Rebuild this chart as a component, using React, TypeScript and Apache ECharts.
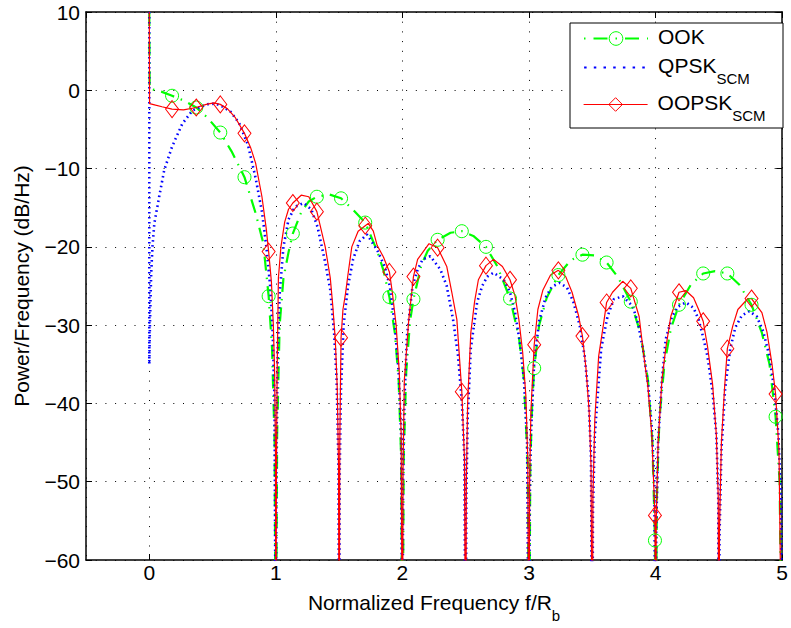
import React, { useEffect, useRef } from 'react';
import * as echarts from 'echarts';

const FONT = '"Liberation Sans", Arial, Helvetica, sans-serif';

const xRange = [-0.5, 5];
const yRange = [-60, 10];
const yStep = 10;
const seriesNames = ['OOK', 'QPSK_SCM', 'OOPSK_SCM'];
const legendMain = ['OOK', 'QPSK', 'OOPSK'];
const legendSub = ['', 'SCM', 'SCM'];
const xAxisTitle = 'Normalized Frequency f/R';
const xAxisTitleSub = 'b';
const yAxisTitle = 'Power/Frequency (dB/Hz)';

// frequencies where markers are drawn (OOK circles and OOPSK diamonds)
const markerFreq = [0.18, 0.371, 0.561, 0.752, 0.943, 1.134, 1.324, 1.515, 1.706, 1.897, 2.087, 2.278, 2.469, 2.66, 2.85, 3.041, 3.232, 3.422, 3.613, 3.804, 3.995, 4.185, 4.376, 4.567, 4.758, 4.948];

const ookCurve: [number, number][] = [
  [0, 10], [0.003, 0.2], [0.05, 0.0], [0.1, -0.2], [0.18, -0.7], [0.27, -1.3], [0.371, -2.2], [0.46, -3.5], [0.561, -5.4], [0.65, -7.8], [0.752, -11.1], [0.84, -15.7], [0.9, -19.5], [0.943, -26.3], [0.97, -33], [0.99, -45], [1.0, -80],
  [1.01, -44], [1.03, -30], [1.06, -24], [1.1, -20.7], [1.134, -18.3], [1.2, -15.6], [1.26, -14.2], [1.324, -13.6], [1.42, -13.3], [1.515, -13.8], [1.6, -15.1], [1.706, -16.9], [1.8, -20.5], [1.85, -23], [1.897, -26.4], [1.94, -31], [1.97, -37], [1.99, -47], [2.0, -80],
  [2.01, -47], [2.03, -36], [2.06, -29.5], [2.087, -26.7], [2.15, -22.3], [2.2, -20.5], [2.278, -19.1], [2.38, -18.2], [2.469, -18.0], [2.56, -18.6], [2.66, -20.0], [2.75, -22.5], [2.85, -26.6], [2.92, -31.5], [2.96, -37], [2.99, -48], [3.0, -80],
  [3.01, -48], [3.025, -40], [3.041, -35.5], [3.08, -30], [3.14, -26.5], [3.232, -23.6], [3.33, -21.7], [3.422, -21.0], [3.52, -21.1], [3.613, -22.0], [3.7, -23.8], [3.804, -27.0], [3.88, -31], [3.94, -37], [3.975, -45], [3.995, -57.5], [4.0, -80],
  [4.01, -52], [4.03, -42], [4.07, -35], [4.12, -30.5], [4.185, -27.4], [4.28, -24.8], [4.376, -23.4], [4.47, -23.1], [4.567, -23.4], [4.66, -24.8], [4.758, -27.4], [4.84, -31], [4.9, -35], [4.948, -41.7], [4.98, -50], [5.0, -80],
];

const qpskCurve: [number, number][] = [
  [0, 10], [0, -35], [0.005, -30], [0.015, -23.3], [0.025, -20], [0.04, -17], [0.078, -13.6], [0.118, -10.2], [0.18, -7.2], [0.26, -4.3], [0.34, -2.6], [0.45, -1.8], [0.52, -1.7], [0.57, -2.0], [0.64, -2.7], [0.71, -4.2], [0.78, -7.0], [0.84, -11.2], [0.89, -15.5], [0.925, -20], [0.955, -25], [0.975, -31], [0.99, -40], [1.0, -80],
  [1.005, -45], [1.015, -33], [1.03, -26], [1.06, -20], [1.1, -16.5], [1.15, -14.9], [1.22, -14.4], [1.28, -15.2], [1.33, -17.5], [1.39, -22], [1.43, -25.5], [1.46, -31], [1.48, -37], [1.495, -48], [1.5, -80],
  [1.505, -48], [1.515, -38], [1.535, -30], [1.57, -25], [1.61, -21.6], [1.66, -19.3], [1.72, -18.4], [1.8, -20.4], [1.86, -22.5], [1.9, -25], [1.94, -30], [1.97, -36], [1.99, -44], [2.0, -80],
  [2.005, -50], [2.015, -40], [2.035, -31.5], [2.08, -25], [2.12, -22.9], [2.16, -21.6], [2.22, -21.2], [2.3, -22.9], [2.35, -25], [2.4, -29.3], [2.44, -34], [2.47, -40], [2.49, -47], [2.5, -80],
  [2.505, -52], [2.515, -42], [2.54, -33], [2.59, -27.1], [2.63, -25], [2.67, -23.8], [2.72, -23.3], [2.8, -24.2], [2.85, -25.8], [2.89, -28.4], [2.93, -32.5], [2.96, -37], [2.985, -45], [3.0, -80],
  [3.005, -53], [3.015, -44], [3.04, -35], [3.08, -29.5], [3.13, -26.5], [3.18, -25.1], [3.24, -24.6], [3.3, -25.2], [3.35, -27], [3.4, -30], [3.44, -34], [3.47, -39], [3.49, -47], [3.5, -80],
  [3.505, -54], [3.52, -44], [3.57, -33], [3.62, -28.9], [3.67, -26.7], [3.74, -26.3], [3.82, -27.6], [3.86, -29.7], [3.9, -33], [3.94, -37.5], [3.97, -43], [3.99, -50], [4.0, -80],
  [4.005, -56], [4.02, -45], [4.05, -37], [4.08, -31.8], [4.13, -28.9], [4.18, -27.6], [4.24, -27.1], [4.3, -27.8], [4.34, -29.3], [4.38, -31.8], [4.41, -34], [4.45, -38.5], [4.48, -44], [4.495, -52], [4.5, -80],
  [4.505, -57], [4.52, -46], [4.55, -38], [4.59, -33], [4.63, -30.3], [4.68, -28.8], [4.74, -28.2], [4.8, -28.9], [4.85, -30.8], [4.9, -34], [4.94, -38.5], [4.97, -44], [4.99, -52], [5.0, -80],
];

const oopskCurve: [number, number][] = [
  [0, 10], [0.002, -1.7], [0.05, -1.9], [0.1, -2.1], [0.18, -2.4], [0.27, -2.5], [0.371, -2.2], [0.45, -1.8], [0.51, -1.6], [0.561, -1.8], [0.62, -2.4], [0.68, -3.5], [0.752, -5.5], [0.8, -7.3], [0.84, -9.3], [0.89, -13.6], [0.925, -17.8], [0.943, -20.6], [0.965, -24.5], [0.98, -30], [0.99, -36], [0.997, -46], [1.0, -80],
  [1.004, -50], [1.01, -36], [1.02, -24], [1.04, -20], [1.07, -16.8], [1.1, -15.2], [1.134, -14.4], [1.2, -13.4], [1.26, -13.6], [1.324, -15.5], [1.39, -20], [1.43, -24], [1.45, -27.6], [1.47, -32], [1.485, -38], [1.495, -48], [1.5, -80],
  [1.505, -45], [1.515, -31.6], [1.53, -28], [1.55, -26], [1.57, -23.5], [1.6, -20], [1.65, -18], [1.706, -17.3], [1.73, -17.0], [1.77, -18], [1.8, -19.8], [1.85, -21.3], [1.897, -23.2], [1.92, -25.8], [1.95, -30], [1.975, -36], [1.99, -44], [2.0, -80],
  [2.005, -48], [2.015, -37], [2.05, -29.3], [2.087, -23.8], [2.12, -21.6], [2.21, -19.6], [2.278, -20.1], [2.35, -22.5], [2.39, -25.8], [2.43, -29.3], [2.469, -38.5], [2.49, -47], [2.5, -80],
  [2.505, -50], [2.515, -40], [2.54, -31], [2.57, -27], [2.6, -24.2], [2.66, -22.4], [2.72, -21.6], [2.79, -22.5], [2.85, -24.2], [2.89, -26.3], [2.92, -29.3], [2.95, -33.5], [2.975, -39], [2.99, -47], [3.0, -80],
  [3.005, -50], [3.015, -41], [3.041, -32.5], [3.07, -28], [3.11, -25.5], [3.17, -23.6], [3.232, -23.0], [3.29, -23.8], [3.34, -25.8], [3.39, -28.7], [3.422, -31.4], [3.45, -35.5], [3.475, -41], [3.49, -48], [3.5, -80],
  [3.505, -52], [3.52, -42], [3.55, -34], [3.59, -29.7], [3.613, -27.1], [3.66, -25.8], [3.74, -24.4], [3.804, -25.3], [3.87, -28.9], [3.9, -33], [3.94, -38], [3.97, -44], [3.995, -54.3], [4.0, -80],
  [4.005, -55], [4.02, -45], [4.05, -37], [4.08, -33], [4.12, -28.9], [4.185, -25.8], [4.24, -25.6], [4.3, -26.5], [4.34, -28], [4.376, -29.5], [4.41, -32.7], [4.45, -37.5], [4.48, -44], [4.495, -52], [4.5, -80],
  [4.505, -56], [4.52, -45], [4.545, -38], [4.567, -33.0], [4.61, -30.1], [4.65, -28], [4.73, -26.6], [4.758, -26.6], [4.84, -28.4], [4.88, -30.9], [4.92, -35], [4.948, -38.8], [4.975, -46], [5.0, -80],
];

const GREEN = '#00ff00';
const BLUE = '#0000ff';
const RED = '#ff0000';

function buildData(curve: [number, number][], symbol: string, size: number | number[]) {
  return curve.map(([x, y]) =>
    markerFreq.some((m) => Math.abs(m - x) < 1e-9)
      ? { value: [x, y], symbol, symbolSize: size }
      : { value: [x, y], symbol: 'none' }
  );
}

const minus = (v: number) => String(v).replace('-', '\u2212');

const FS = 21;

const subRich = {
  m: { fontSize: FS, lineHeight: 25, verticalAlign: 'top', padding: [0, 0, 6, 5], color: '#000', fontFamily: FONT },
  s: { fontSize: 15, lineHeight: 15, verticalAlign: 'top', padding: [16, 0, 0, 0], color: '#000', fontFamily: FONT },
};

export default function App() {
  const ref = useRef<HTMLDivElement>(null);
  useEffect(() => {
    const chart = echarts.init(ref.current!, null, { renderer: 'svg' });
    const axisLine = { show: true, onZero: false, lineStyle: { color: '#000', width: 1.5 } };
    const tick = { show: true, inside: true, length: 6, lineStyle: { color: '#000', width: 1 } };
    const grid = { show: true, lineStyle: { color: '#000', width: 1, type: [1, 8.7] } };
    const legendColors = [GREEN, BLUE, RED];
    const legendTops = [26, 55, 92];
    const legendLine = [
      { color: GREEN, width: 2, type: [14, 8, 1.5, 8], dashOffset: 22 },
      { color: BLUE, width: 2.2, type: [2.5, 7.2] },
      { color: RED, width: 1.2, type: 'solid' },
    ];
    chart.setOption({
      animation: false,
      textStyle: { fontFamily: FONT },
      grid: { left: 86, right: 5, top: 12, bottom: 65, containLabel: false },
      xAxis: [
        {
          type: 'value', min: xRange[0], max: xRange[1], minInterval: 1, maxInterval: 1, splitNumber: 5, position: 'bottom',
          axisLine, axisTick: tick, splitLine: grid,
          axisLabel: { showMinLabel: false, color: '#000', fontSize: FS, fontFamily: FONT, margin: 2, lineHeight: 21, formatter: minus },
          name: `{n|${xAxisTitle}}{s|${xAxisTitleSub}}`, nameLocation: 'middle', nameGap: 32,
          nameTextStyle: {
            rich: {
              n: { fontSize: FS, lineHeight: 25, verticalAlign: 'top', color: '#000', fontFamily: FONT },
              s: { fontSize: 15, lineHeight: 15, verticalAlign: 'top', padding: [16, 0, 0, 0], color: '#000', fontFamily: FONT },
            },
          },
        },
        {
          type: 'value', min: xRange[0], max: xRange[1], minInterval: 1, maxInterval: 1, splitNumber: 5, position: 'top',
          axisLine, axisTick: tick, splitLine: { show: false }, axisLabel: { show: false },
        },
      ],
      yAxis: [
        {
          type: 'value', min: yRange[0], max: yRange[1], interval: yStep, position: 'left',
          axisLine, axisTick: tick, splitLine: grid,
          axisLabel: { color: '#000', fontSize: FS, fontFamily: FONT, margin: 6, formatter: minus },
          name: yAxisTitle, nameLocation: 'middle', nameGap: 52,
          nameTextStyle: { color: '#000', fontSize: FS, lineHeight: 24, fontFamily: FONT },
        },
        {
          type: 'value', min: yRange[0], max: yRange[1], interval: yStep, position: 'right',
          axisLine, axisTick: tick, splitLine: { show: false }, axisLabel: { show: false },
        },
      ],
      graphic: {
        elements: [
          {
            type: 'rect', z: 8,
            shape: { x: 570, y: 23, width: 213, height: 105 },
            style: { fill: '#fff', stroke: '#000', lineWidth: 1 },
          },
        ],
      },
      legend: seriesNames.map((name, i) => ({
        data: [name], left: 583, top: legendTops[i], orient: 'vertical', padding: 0,
        itemWidth: 64, itemHeight: 17, selectedMode: false, z: 10,
        formatter: () => (legendSub[i] ? `{m|${legendMain[i]}}{s|${legendSub[i]}}` : `{m|${legendMain[i]}}`),
        textStyle: { color: '#000', fontSize: FS, fontFamily: FONT, rich: subRich },
        lineStyle: legendLine[i],
        itemStyle: i === 1
          ? { color: 'rgba(0,0,0,0)', borderColor: 'rgba(0,0,0,0)', borderWidth: 0 }
          : { color: 'rgba(0,0,0,0)', borderColor: legendColors[i], borderWidth: 1 },
      })),
      series: [
        {
          name: seriesNames[0], type: 'line', data: buildData(ookCurve, 'circle', 13),
          symbol: 'circle', showSymbol: true, z: 2,
          lineStyle: { color: GREEN, width: 2.2, type: [14, 7, 1.5, 7] },
          itemStyle: { color: 'rgba(0,0,0,0)', borderColor: GREEN, borderWidth: 1 },
          emphasis: { disabled: true },
        },
        {
          name: seriesNames[1], type: 'line', data: qpskCurve,
          symbol: 'none', showSymbol: false, z: 2,
          lineStyle: { color: BLUE, width: 2.6, type: [1.6, 3.4] },
          itemStyle: { color: BLUE },
          emphasis: { disabled: true },
        },
        {
          name: seriesNames[2], type: 'line', data: buildData(oopskCurve, 'diamond', [13, 17]),
          symbol: 'diamond', showSymbol: true, z: 2,
          lineStyle: { color: RED, width: 1.2, type: 'solid' },
          itemStyle: { color: 'rgba(0,0,0,0)', borderColor: RED, borderWidth: 1 },
          emphasis: { disabled: true },
        },
      ],
    });
    return () => chart.dispose();
  }, []);
  return <div ref={ref} style={{ position: 'fixed', left: 0, top: 0, width: 791, height: 628, background: '#fff' }} />;
}
